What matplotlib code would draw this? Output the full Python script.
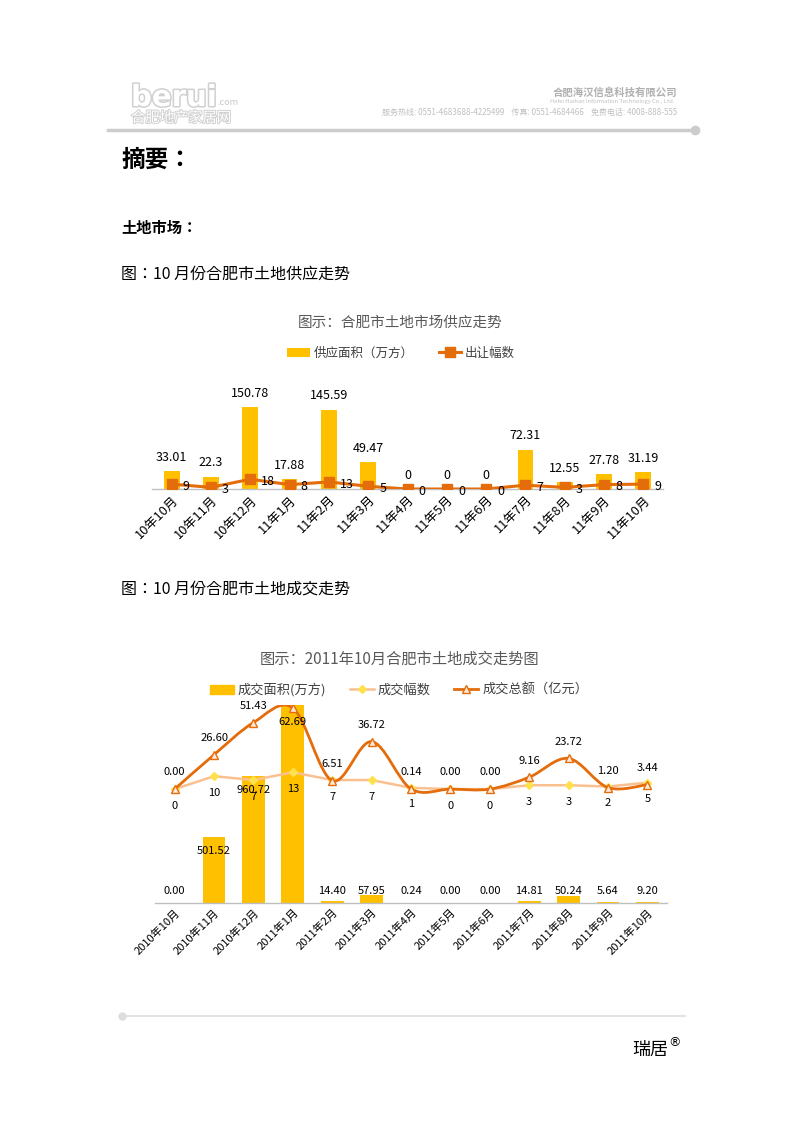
import numpy as np
import matplotlib
matplotlib.use('Agg')
import matplotlib.pyplot as plt
import matplotlib.patheffects as pe
from matplotlib.path import Path
from matplotlib.patches import PathPatch
from matplotlib.lines import Line2D

plt.rcParams['font.family'] = ['Noto Sans CJK SC', 'DejaVu Sans']

W, H = 800, 1132

# Chart 1: land supply
supply_months = ['10年10月', '10年11月', '10年12月', '11年1月', '11年2月', '11年3月', '11年4月',
                 '11年5月', '11年6月', '11年7月', '11年8月', '11年9月', '11年10月']
supply_area = [33.01, 22.3, 150.78, 17.88, 145.59, 49.47, 0, 0, 0, 72.31, 12.55, 27.78, 31.19]
supply_lots = [9, 3, 18, 8, 13, 5, 0, 0, 0, 7, 3, 8, 9]

# Chart 2: land deals
deal_months = ['2010年10月', '2010年11月', '2010年12月', '2011年1月', '2011年2月', '2011年3月',
               '2011年4月', '2011年5月', '2011年6月', '2011年7月', '2011年8月', '2011年9月',
               '2011年10月']
deal_area = [0.00, 501.52, 960.72, 1500, 14.40, 57.95, 0.24, 0.00, 0.00, 14.81, 50.24, 5.64, 9.20]
deal_lots = [0, 10, 7, 13, 7, 7, 1, 0, 0, 3, 3, 2, 5]
deal_amount = [0.00, 26.60, 51.43, 62.69, 6.51, 36.72, 0.14, 0.00, 0.00, 9.16, 23.72, 1.20, 3.44]

GOLD = '#FFC000'
ORANGE = '#E46C0A'
PEACH = '#FAC090'
YELLOW = '#FFE14D'
GRAY = '#595959'
BODY_FONT = ['Noto Sans CJK JP', 'DejaVu Sans']   # centred full-width colon


def fx(x):
    return x / W


def fy(y):
    return 1 - y / H


def box(l, t, r, b):
    """Axes rect from pixel edges."""
    return [l / W, 1 - b / H, (r - l) / W, (b - t) / H]


def smooth_path(x, y):
    """Excel-like smoothed line as cubic bezier path (catmull-rom control points)."""
    pts = np.column_stack([x, y]).astype(float)
    n = len(pts)
    verts = [pts[0]]
    codes = [Path.MOVETO]
    for i in range(n - 1):
        p0 = pts[max(i - 1, 0)]
        p1 = pts[i]
        p2 = pts[i + 1]
        p3 = pts[min(i + 2, n - 1)]
        verts += [p1 + (p2 - p0) / 6, p2 - (p3 - p1) / 6, p2]
        codes += [Path.CURVE4] * 3
    return Path(verts, codes)


def style_axis(ax):
    for s in ['top', 'right', 'left']:
        ax.spines[s].set_visible(False)
    ax.spines['bottom'].set_color('#bfbfbf')
    ax.spines['bottom'].set_linewidth(1.0)
    ax.set_yticks([])
    ax.tick_params(axis='x', length=0, pad=3)


fig = plt.figure(figsize=(W / 100, H / 100), dpi=100)

# ---- page header ----
fig.text(fx(131), fy(106), 'berui', fontsize=21, fontweight='bold', color='white',
         ha='left', va='baseline', family='DejaVu Sans',
         path_effects=[pe.withStroke(linewidth=2.2, foreground='#d0d0d0')])
fig.text(fx(217), fy(105), '.com', fontsize=6.5, color='#c8c8c8', ha='left', va='baseline')
fig.text(fx(131), fy(118), '合肥地产家居网', fontsize=10.3, color='white', ha='left', va='center',
         path_effects=[pe.withStroke(linewidth=1.4, foreground='#d0d0d0')])
fig.text(fx(677), fy(93), '合肥海汉信息科技有限公司', fontsize=7.5, color='#b0b0b0',
         fontweight='bold', ha='right', va='center')
fig.text(fx(675), fy(101), 'Hefei Haihan Information Technology Co., Ltd.', fontsize=4.2,
         color='#c0c0c0', ha='right', va='center')
fig.text(fx(677), fy(112), '服务热线: 0551-4683688-4225499    传真: 0551-4684466    免费电话: 4008-888-555',
         fontsize=5.8, color='#c0c0c0', ha='right', va='center')
fig.add_artist(Line2D([fx(108), fx(693)], [fy(130), fy(130)], color='#cccccc', lw=2.5))
fig.add_artist(Line2D([fx(695)], [fy(130)], marker='o', ms=6, color='#cccccc'))

# ---- body text ----
fig.text(fx(121), fy(160), '摘要：', fontsize=17, fontweight='bold', color='black',
         ha='left', va='center', family=BODY_FONT)
fig.text(fx(121), fy(228), '土地市场：', fontsize=11, fontweight='bold', color='black',
         ha='left', va='center', family=BODY_FONT)
fig.text(fx(121), fy(274), '图：10 月份合肥市土地供应走势', fontsize=11.5, color='black',
         ha='left', va='center', family=BODY_FONT)
fig.text(fx(121), fy(589), '图：10 月份合肥市土地成交走势', fontsize=11.5, color='black',
         ha='left', va='center', family=BODY_FONT)

# ---- chart 1 ----
fig.text(fx(400), fy(323), '图示：合肥市土地市场供应走势', fontsize=10.5, color=GRAY,
         ha='center', va='center')
ax1 = fig.add_axes(box(152, 402, 663, 489))
x1 = np.arange(len(supply_months))
bars1 = ax1.bar(x1, supply_area, width=0.4, color=GOLD, zorder=2)
line1, = ax1.plot(x1, supply_lots, color=ORANGE, lw=2.2, marker='s', ms=7, zorder=3)
ax1.set_xlim(-0.5, len(x1) - 0.5)
ax1.set_ylim(0, 160)
style_axis(ax1)
ax1.set_xticks(x1)
ax1.set_xticklabels(supply_months, rotation=45, ha='right', rotation_mode='anchor', fontsize=9.3)
for i, v in enumerate(supply_area):
    ax1.annotate(f'{v:g}', (x1[i], v), xytext=(0, 10), textcoords='offset points',
                 ha='center', va='center', fontsize=9, color='black', clip_on=False)
for i, v in enumerate(supply_lots):
    ax1.annotate(f'{v}', (x1[i], v), xytext=(8, -1.5), textcoords='offset points',
                 ha='left', va='center', fontsize=9, color='black', clip_on=False)
fig.legend([bars1, line1], ['供应面积（万方）', '出让幅数'], loc='center',
           bbox_to_anchor=(fx(401), fy(353)), ncol=2, frameon=False,
           fontsize=9, handlelength=1.8, columnspacing=2.0, handletextpad=0.3,
           labelcolor='#404040')

# ---- chart 2 ----
fig.text(fx(400), fy(659), '图示：2011年10月合肥市土地成交走势图', fontsize=11, color=GRAY,
         ha='center', va='center')
ax2 = fig.add_axes(box(155, 705, 667, 903))
x2 = np.arange(len(deal_months))
area_top = 1500
ax2.bar(x2, deal_area, width=0.58, color=GOLD, zorder=2)
ax2.set_xlim(-0.5, len(x2) - 0.5)
ax2.set_ylim(0, area_top)
style_axis(ax2)
ax2.set_xticks(x2)
ax2.set_xticklabels(deal_months, rotation=45, ha='right', rotation_mode='anchor', fontsize=8)
for i, v in enumerate(deal_area):
    if v >= area_top:
        continue
    if v > 200:
        ax2.annotate(f'{v:.2f}', (x2[i], v), xytext=(0, -10), textcoords='offset points',
                     ha='center', va='center', fontsize=8, color='black')
    else:
        ax2.annotate(f'{v:.2f}', (x2[i], 0), xytext=(0, 9), textcoords='offset points',
                     ha='center', va='center', fontsize=8, color='black')

ax2b = ax2.twinx()
ax2b.set_ylim(-88, 65)
ax2b.set_yticks([])
for s in ['top', 'right', 'left', 'bottom']:
    ax2b.spines[s].set_visible(False)
ax2b.plot(x2, deal_lots, color=PEACH, lw=1.8, marker='D', ms=4.5, mfc=YELLOW, mec=YELLOW, zorder=3)
curve = PathPatch(smooth_path(x2, deal_amount), fill=False, edgecolor=ORANGE, lw=2, zorder=4)
ax2b.add_patch(curve)
ax2b.plot(x2, deal_amount, ls='none', marker='^', ms=6, mfc='#FDE9D9', mec=ORANGE, mew=1,
          zorder=5)
for i, v in enumerate(deal_amount):
    dy = -10 if v == max(deal_amount) else 12
    ax2b.annotate(f'{v:.2f}', (x2[i], v), xytext=(0, dy), textcoords='offset points',
                  ha='center', va='center', fontsize=8, color='black', zorder=6)
for i, v in enumerate(deal_lots):
    ax2b.annotate(f'{v}', (x2[i], v), xytext=(0, -12), textcoords='offset points',
                  ha='center', va='center', fontsize=8, color='black', zorder=6)

h2 = [plt.Rectangle((0, 0), 1, 1, color=GOLD),
      Line2D([], [], color=PEACH, lw=1.8, marker='D', ms=4.5, mfc=YELLOW, mec=YELLOW),
      Line2D([], [], color=ORANGE, lw=2, marker='^', ms=6, mfc='#FDE9D9', mec=ORANGE)]
l2 = ['成交面积(万方)', '成交幅数', '成交总额（亿元）']
fig.legend(h2, l2, loc='center', bbox_to_anchor=(fx(399), fy(690)), ncol=3, frameon=False,
           fontsize=9.5, handlelength=1.8, columnspacing=1.8, handletextpad=0.3,
           labelcolor='#404040')

# ---- footer ----
fig.add_artist(Line2D([fx(122), fx(685)], [fy(1016), fy(1016)], color='#dddddd', lw=1.2))
fig.add_artist(Line2D([fx(122)], [fy(1016)], marker='o', ms=5, color='#dddddd'))
fig.text(fx(632), fy(1050), '瑞居', fontsize=13, color='black', ha='left', va='center')
fig.text(fx(668), fy(1043), '®', fontsize=9, color='black', ha='left', va='center',
         family='DejaVu Sans')

fig.savefig('out.png', dpi=100)
